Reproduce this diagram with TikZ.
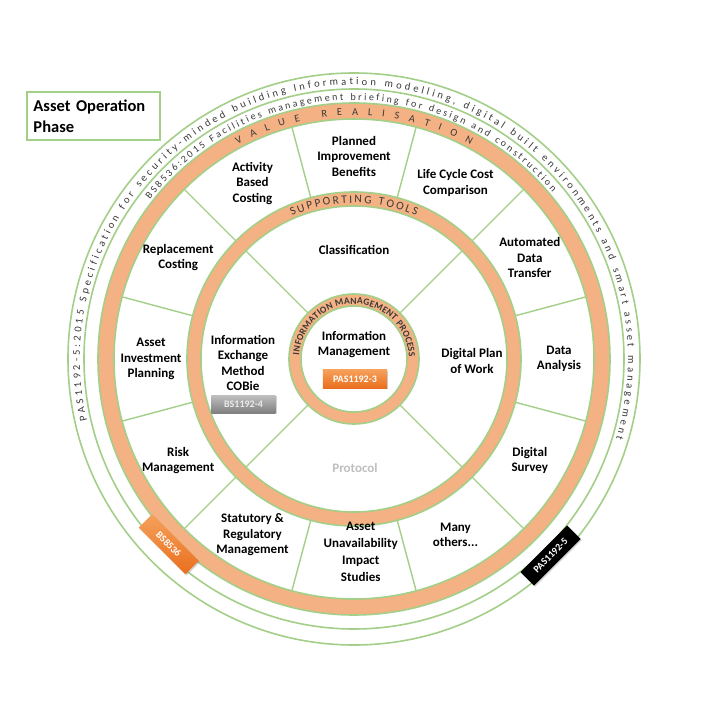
\documentclass[tikz,border=0pt]{standalone}
\usepackage{fontspec}
\setmainfont{Carlito}
\usetikzlibrary{decorations.text, shadows}
\definecolor{ringorange}{HTML}{F4B183}
\definecolor{ringgreen}{HTML}{A3CF88}
\definecolor{ringtext}{HTML}{3A3A3A}
\definecolor{badgetop}{HTML}{F6A05A}
\definecolor{badgebot}{HTML}{E96F1E}

\begin{document}
\begin{tikzpicture}[x=1pt, y=1pt,
        rim/.style={draw=ringgreen, line width=1.6pt},
        band/.style={fill=ringorange, even odd rule},
        divider/.style={draw=ringgreen, line width=1.4pt},
        sector/.style={font=\bfseries\fontsize{13}{15.5}\selectfont, align=center, text=black},
        badge/.style={rectangle, minimum width=64pt, minimum height=18pt, inner sep=0pt, text=white,
            font=\bfseries\fontsize{10}{10}\selectfont, drop shadow={opacity=0.35, shadow xshift=1.2pt, shadow yshift=-1.2pt}},
        orangebadge/.style={badge, top color=badgetop, bottom color=badgebot},
        curved/.style={decorate, decoration={text along path, text align={fit to path}, text={#1}}}]

        \useasboundingbox (-354,-350) rectangle (355,359);
        \fill[white] (-354,-350) rectangle (355,359);

        \draw[rim] (0,0) circle[radius=286pt];
        \draw[rim] (0,0) circle[radius=270pt];
        \path[band] (0,0) circle[radius=256pt] circle[radius=240pt];
        \path[band] (0,0) circle[radius=167pt] circle[radius=153pt];
        \path[band] (0,0) circle[radius=65pt] circle[radius=53pt];

        \foreach \a in {15,45,...,345}
            \draw[divider] (\a:167pt) -- (\a:240pt);
        \foreach \a in {45,135,225,315}
            \draw[divider] (\a:65pt) -- (\a:153pt);

        \foreach \r in {256,240,167,153,65,53}
            \draw[rim] (0,0) circle[radius=\r pt];

        \path[curved={|\fontsize{10.5}{12}\selectfont\color{ringtext}|PAS1192-5:2015 Specification for security-minded building Information modelling, digital built environments and smart asset management}]
            (193:274pt) arc[start angle=193, end angle=-17, radius=274pt];
        \path[curved={|\fontsize{10}{12}\selectfont\color{ringtext}|BS8536:2015 Facilities management briefing for design and construction}]
            (142:259pt) arc[start angle=142, end angle=40, radius=259pt];
        \path[curved={|\fontsize{10.5}{12}\selectfont\color{ringtext}|VALUE  REALISATION}]
            (118.5:244pt) arc[start angle=118.5, end angle=61.5, radius=244pt];
        \path[curved={|\fontsize{11.5}{12}\selectfont\color{ringtext}|SUPPORTING TOOLS}]
            (113.5:156pt) arc[start angle=113.5, end angle=66.5, radius=156pt];
        \path[curved={|\bfseries\fontsize{9.5}{10}\selectfont\color{ringtext}|INFORMATION MANAGEMENT PROCESS}]
            (176:55pt) arc[start angle=176, end angle=2, radius=55pt];

        \node[draw=ringgreen, line width=1.2pt, minimum width=133pt, minimum height=48pt, text width=120pt, align=left,
            font=\bfseries\fontsize{16.5}{21}\selectfont] (phase) at (-260.5,243) {Asset Operation\\Phase};

        \node[sector] (planned) at (90:203pt) {Planned\\Improvement\\Benefits};
        \node[sector] (lifecycle) at (60:203pt) {Life Cycle Cost\\Comparison};
        \node[sector] (automated) at (30:203pt) {Automated\\Data\\Transfer};
        \node[sector] (analysis) at (0:205pt) {Data\\Analysis};
        \node[sector] (survey) at (-30:203pt) {Digital\\Survey};
        \node[sector] (others) at (-60:203pt) {Many\\others...};
        \node[sector, font=\bfseries\fontsize{13}{17}\selectfont] (unavail) at (-88:193pt) {Asset\\Unavailability\\Impact\\Studies};
        \node[sector] (statutory) at (-120:203pt) {Statutory \&\\Regulatory\\Management};
        \node[sector] (risk) at (-150:203pt) {Risk\\Management};
        \node[sector] (investment) at (180:203pt) {Asset\\Investment\\Planning};
        \node[sector] (replacement) at (150:203pt) {Replacement\\Costing};
        \node[sector] (activity) at (120:203pt) {Activity\\Based\\Costing};

        \node[sector] (classif) at (0,109) {Classification};
        \node[sector] (planwork) at (118,-2) {Digital Plan\\of Work};
        \node[sector, text=black!25] (protocol) at (1,-109) {Protocol};
        \node[sector] (cobie) at (-111,-4) {Information\\Exchange\\Method\\COBie};
        \node[sector] (infomgmt) at (0,14.5) {Information\\Management};

        \node[orangebadge] (pas3) at (1,-20) {PAS1192-3};
        \node[badge, top color=black!25, bottom color=black!50, text=black!8] (bs4) at (-110.5,-45) {BS1192-4};
        \node[orangebadge, minimum width=66pt, minimum height=19pt, rotate=-45] (bs8536) at (225:262pt) {BS8536};
        \node[badge, fill=black, minimum width=66pt, minimum height=19pt, rotate=45] (pas5) at (-45:278pt) {PAS1192-5};

    \end{tikzpicture}
\end{document}
